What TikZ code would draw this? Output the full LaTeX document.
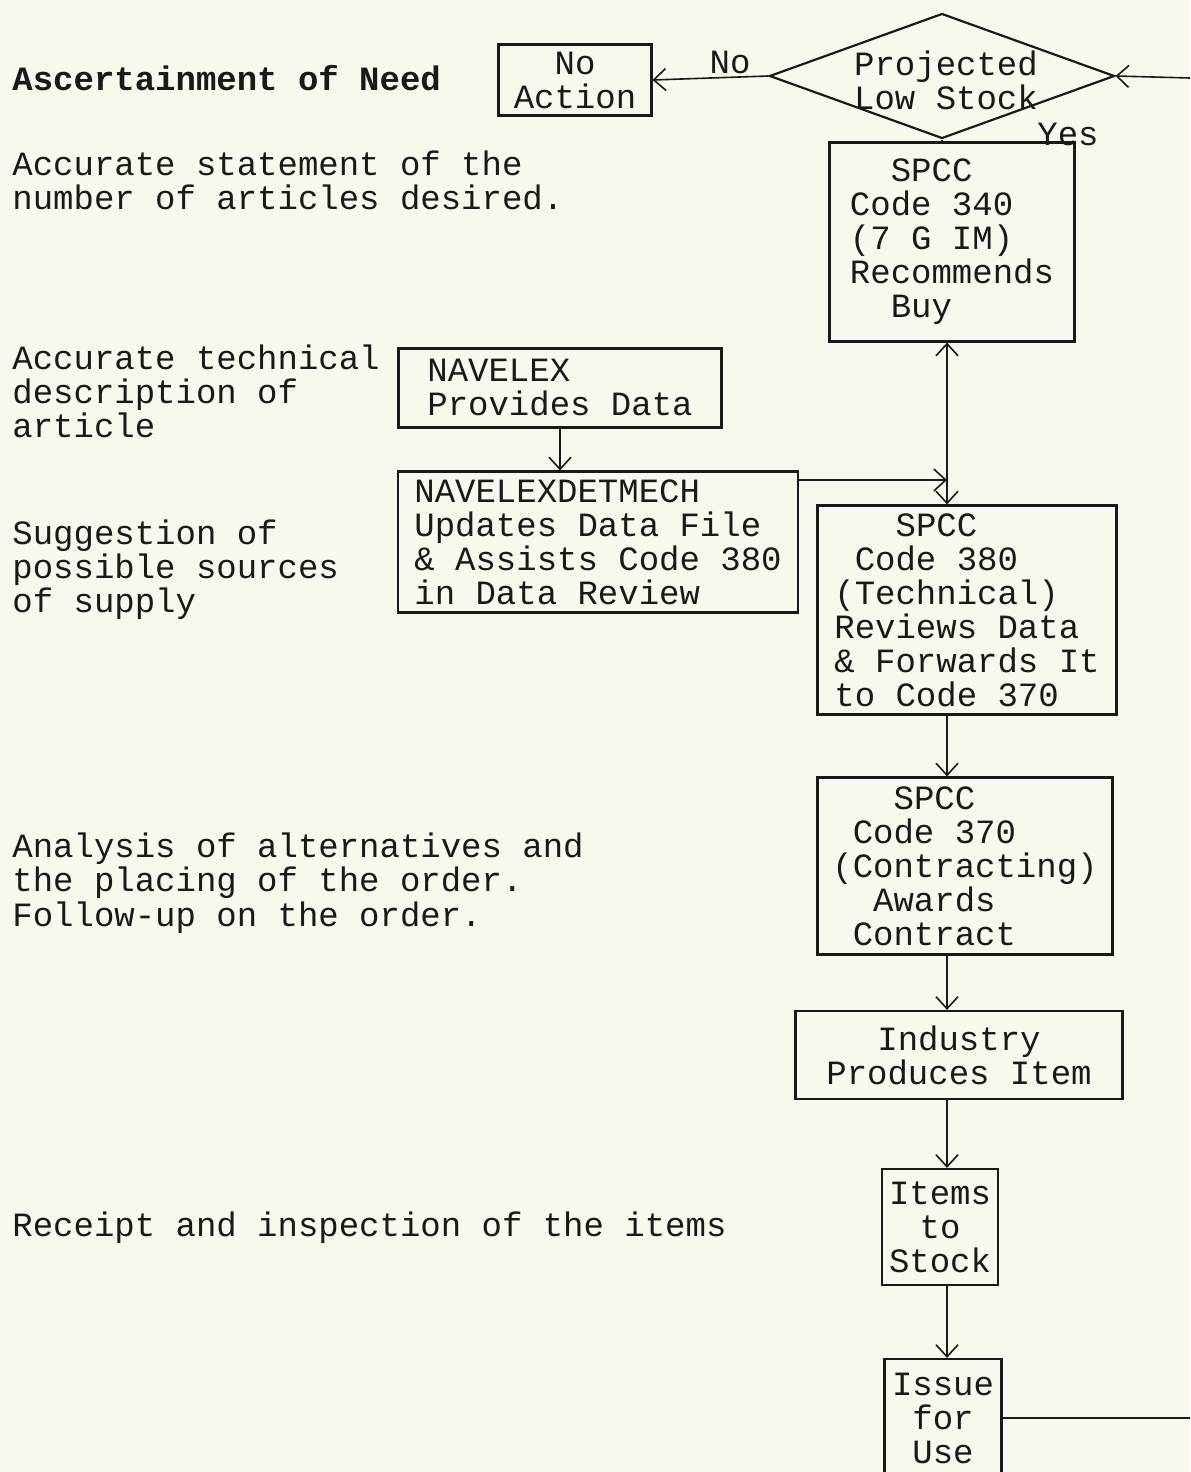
\documentclass[tikz,border=0pt]{standalone}
\usepackage{fontspec}
\setmonofont{Liberation Mono}
\usetikzlibrary{shapes.geometric,arrows.meta}
\definecolor{paper}{RGB}{250,248,237}
\definecolor{ink}{RGB}{25,25,25}
\newcommand\twfont{\ttfamily\fontsize{17}{17}\selectfont}
\newcommand\tsp[1]{\hphantom{#1}}

\begin{document}
\begin{tikzpicture}[x=0.5pt,y=-0.5pt,
   box/.style={draw=ink, line width=1.1pt, inner sep=0pt, font=\twfont, text=ink},
   note/.style={anchor=west, align=left, inner sep=0pt, font=\twfont, text=ink},
   tag/.style={inner sep=0pt, font=\twfont, text=ink},
   arr/.style={draw=ink, line width=0.8pt, -{Straight Barb[length=6pt,width=11pt]}},
   link/.style={draw=ink, line width=0.8pt}]
   \fill[paper] (0,0) rectangle (1190,1472);
   \useasboundingbox (0,0) rectangle (1190,1472);
   % stages of the buy, left column
   \node[note, font=\twfont\bfseries] (need) at (12,78) {Ascertainment of Need};
   \node[note] (quantity) at (12,180) {Accurate statement of the\\number of articles desired.};
   \node[note] (techdesc) at (12,391) {Accurate technical\\description of\\article};
   \node[note] (sources) at (12,570) {Suggestion of\\possible sources\\of supply};
   \node[note] (analysis) at (12,866) {Analysis of alternatives and\\the placing of the order.};
   \node[note] (followup) at (12,918) {Follow-up on the order.};
   \node[note] (receipt) at (12,1228) {Receipt and inspection of the items};
   % flow chart
   \node[box, align=center, minimum width=76.5pt, minimum height=35.5pt] (noaction) at (575,80) {No\\Action};
   \node[diamond, draw=ink, line width=1.1pt, minimum width=172.5pt, minimum height=62.5pt, inner sep=0pt] (lowstock) at (942,76) {};
   \node[tag, align=center] (lowtxt) at (946,80) {Projected\\Low Stock};
   \node[box, align=left, minimum width=122.5pt, minimum height=99.5pt] (spcc340) at (952,242) {\tsp{xx}SPCC\\Code 340\\(7 G IM)\\Recommends\\\tsp{xx}Buy};
   \node[box, align=left, minimum width=161.5pt, minimum height=39.5pt] (navelex) at (560,388) {NAVELEX\\Provides Data};
   \node[box, align=left, minimum width=200pt, minimum height=70.5pt] (detmech) at (598,542) {NAVELEXDETMECH\\Updates Data File\\\& Assists Code 380\\in Data Review};
   \node[box, align=left, minimum width=149.5pt, minimum height=104.5pt] (spcc380) at (967,610) {\tsp{xxx}SPCC\\\tsp{x}Code 380\\(Technical)\\Reviews Data\\\& Forwards It\\to Code 370};
   \node[box, align=left, minimum width=147.5pt, minimum height=88.5pt] (spcc370) at (965,866) {\tsp{xxx}SPCC\\\tsp{x}Code 370\\(Contracting)\\\tsp{xx}Awards\\\tsp{x}Contract};
   \node[box, align=center, minimum width=163.5pt, minimum height=44pt] (industry) at (959,1055) {Industry\\Produces Item};
   \node[box, align=center, minimum width=58pt, minimum height=58pt] (items) at (940,1227) {Items\\to\\Stock};
   \node[box, align=center, minimum width=58.5pt, minimum height=59pt] (issue) at (943,1418) {Issue\\for\\Use};
   \coordinate (col) at (947,0);
   \coordinate (junc) at (947,480);
   \coordinate (loopin) at (1190,78);
   \coordinate (loopout) at (1190,1418);
   % connectors
   \draw[arr] (lowstock.west) -- (noaction.east);
   \node[tag] (nolbl) at (730,62) {No};
   \draw[arr] (loopin) -- (lowstock.east);
   \draw[link] (lowstock.south) -- (spcc340.north -| lowstock.south);
   \node[tag] (yeslbl) at (1068,134) {Yes};
   \draw[arr] (navelex.south) -- (navelex.south |- detmech.north);
   \draw[arr] (detmech.east |- junc) -- (junc);
   \draw[arr] (junc) -- (spcc340.south -| junc);
   \draw[arr] (junc) -- (spcc380.north -| junc);
   \draw[arr] (spcc380.south -| col) -- (spcc370.north -| col);
   \draw[arr] (spcc370.south -| col) -- (industry.north -| col);
   \draw[arr] (industry.south -| col) -- (items.north -| col);
   \draw[arr] (items.south -| col) -- (issue.north -| col);
   \draw[link] (issue.east) -- (issue.east -| loopout);
\end{tikzpicture}
\end{document}
